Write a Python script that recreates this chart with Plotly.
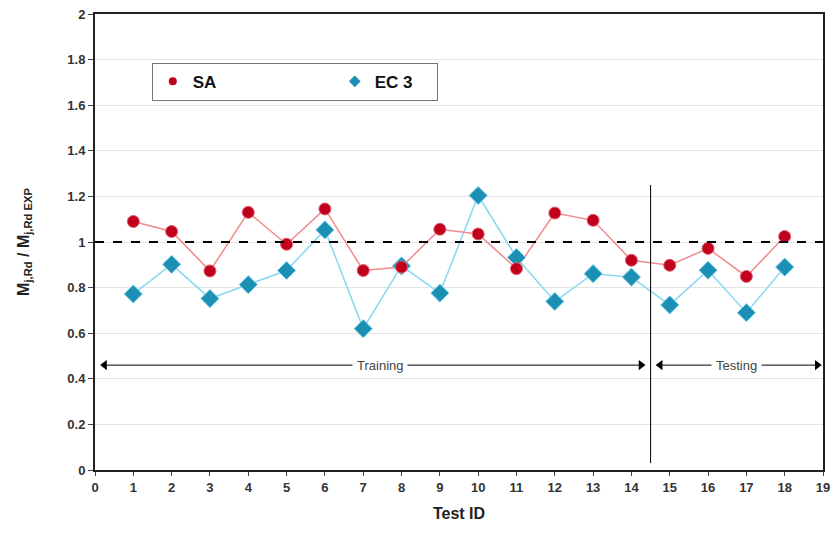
import plotly.graph_objects as go

test_id = list(range(1, 19))
sa_values = [1.09, 1.046, 0.873, 1.13, 0.99, 1.145, 0.875, 0.89, 1.056, 1.035,
             0.883, 1.127, 1.095, 0.92, 0.898, 0.972, 0.849, 1.024]
ec3_values = [0.772, 0.902, 0.752, 0.813, 0.875, 1.053, 0.62, 0.895, 0.776, 1.204,
              0.932, 0.739, 0.861, 0.846, 0.724, 0.876, 0.69, 0.89]
x_ticks = list(range(0, 20))
y_ticks = [0, 0.2, 0.4, 0.6, 0.8, 1, 1.2, 1.4, 1.6, 1.8, 2]
y_tick_labels = ["0", "0.2", "0.4", "0.6", "0.8", "1", "1.2", "1.4", "1.6", "1.8", "2"]

SA_MARK = "#c0001c"
SA_LINE = "#f08a8a"
EC_MARK = "#1c8fb5"
EC_LINE = "#86d8f2"
FONT = "Arial, Liberation Sans, sans-serif"

fig = go.Figure()

# connecting lines
fig.add_trace(go.Scatter(x=test_id, y=ec3_values, mode="lines",
                         line=dict(color=EC_LINE, width=1.5), showlegend=False, hoverinfo="skip"))
fig.add_trace(go.Scatter(x=test_id, y=sa_values, mode="lines",
                         line=dict(color=SA_LINE, width=1.5), showlegend=False, hoverinfo="skip"))
# markers
fig.add_trace(go.Scatter(x=test_id, y=ec3_values, mode="markers", showlegend=False,
                         marker=dict(symbol="diamond", size=14, color=EC_MARK,
                                     line=dict(color="#7fd0ea", width=1))))
fig.add_trace(go.Scatter(x=test_id, y=sa_values, mode="markers", showlegend=False,
                         marker=dict(symbol="circle", size=12, color=SA_MARK,
                                     line=dict(color="#e06070", width=1))))
# legend entries
fig.add_trace(go.Scatter(x=[None], y=[None], mode="markers",
                         name="SA" + "&nbsp;" * 24,
                         marker=dict(symbol="circle", size=8, color=SA_MARK)))
fig.add_trace(go.Scatter(x=[None], y=[None], mode="markers", name="EC 3" + "&nbsp;" * 4,
                         marker=dict(symbol="diamond", size=9, color=EC_MARK)))

# reference dashed line at 1
fig.add_shape(type="line", x0=0, x1=19, y0=1, y1=1, xref="x", yref="y",
              line=dict(color="black", width=2, dash="dash"))
# training / testing separator
fig.add_shape(type="line", x0=14.5, x1=14.5, y0=0.03, y1=1.25, xref="x", yref="y",
              line=dict(color="black", width=1))

# span arrows
arrow_y = 0.46
spans = [("Training", 0.25, 14.25, 7.45), ("Testing", 14.75, 18.85, 16.75)]
for label, x0, x1, xc in spans:
    fig.add_shape(type="line", x0=x0, x1=x1, y0=arrow_y, y1=arrow_y, xref="x", yref="y",
                  line=dict(color="black", width=1))
    fig.add_trace(go.Scatter(x=[x0, x1], y=[arrow_y, arrow_y], mode="markers",
                             showlegend=False, hoverinfo="skip",
                             marker=dict(symbol=["triangle-left", "triangle-right"],
                                         size=9, color="black")))
    fig.add_annotation(x=xc, y=arrow_y, xref="x", yref="y", text=label, showarrow=False,
                       bgcolor="white", borderpad=4,
                       font=dict(family=FONT, size=13, color="#444"))

fig.update_layout(
    width=833, height=546,
    margin=dict(l=95, r=3, t=14, b=76),
    paper_bgcolor="white", plot_bgcolor="white",
    font=dict(family=FONT, color="#333"),
    legend=dict(orientation="h", x=0.078, y=0.893, xanchor="left", yanchor="top",
                bordercolor="#777", borderwidth=1, bgcolor="white",
                font=dict(family=FONT, size=17, color="#111", weight="bold")),
    xaxis=dict(range=[0, 19], tickvals=x_ticks, ticktext=[str(v) for v in x_ticks],
               showgrid=False, zeroline=False, showline=True, linecolor="#222",
               linewidth=2, mirror=True, ticks="outside", ticklen=4, tickcolor="#444",
               ticklabeloverflow="allow",
               tickfont=dict(size=13, color="#333", weight="bold"),
               title=dict(text="Test ID", standoff=14,
                          font=dict(size=16, color="#222", weight="bold"))),
    yaxis=dict(range=[0, 2], tickvals=y_ticks, ticktext=y_tick_labels,
               showgrid=True, gridcolor="#e4e4e4", gridwidth=1, zeroline=False,
               showline=True, linecolor="#222", linewidth=2, mirror=True,
               ticks="outside", ticklen=5, tickcolor="#444",
               tickfont=dict(size=13, color="#333", weight="bold"),
               title=dict(text="M<sub>j,Rd</sub> / M<sub>j,Rd EXP</sub>", standoff=34,
                          font=dict(size=16, color="#222", weight="bold"))),
)

fig.write_html("out.html")
